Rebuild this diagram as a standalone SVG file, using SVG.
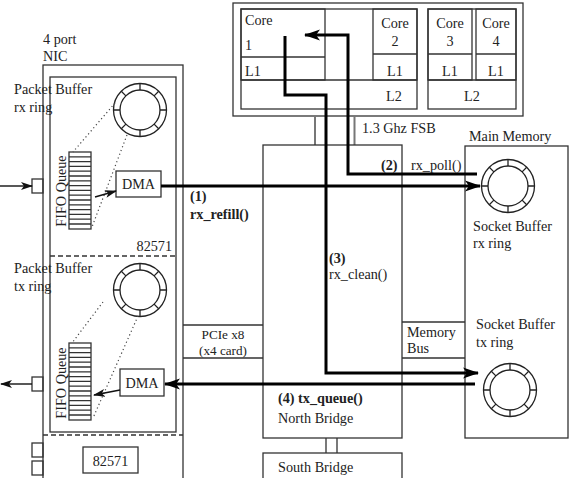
<svg xmlns="http://www.w3.org/2000/svg" width="569" height="478" viewBox="0 0 569 478">
<style>
  text { font-family: "Liberation Serif", "Times New Roman", serif; font-size: 14.2px; fill: #222; }
  .b { font-weight: bold; }
  .sm { font-size: 13.2px; }
  .box { fill: none; stroke: #333; stroke-width: 1.3; }
  .ln { fill: none; stroke: #333; stroke-width: 1.3; }
  .dash { fill: none; stroke: #333; stroke-width: 1.5; stroke-dasharray: 5 3; }
  .dot { fill: none; stroke: #444; stroke-width: 1.2; stroke-dasharray: 1.2 2.8; }
  .thick { fill: none; stroke: #000; stroke-width: 3; }
  .thin { fill: none; stroke: #111; stroke-width: 1.4; }
  .ring { fill: none; stroke: #222; stroke-width: 1.3; }
</style>
<defs>
  <marker id="ah" markerUnits="userSpaceOnUse" markerWidth="16" markerHeight="12" refX="15" refY="6" orient="auto">
    <path d="M0,0.5 L16,6 L0,11.5 L4,6 z" fill="#000"/>
  </marker>
  <marker id="as" markerUnits="userSpaceOnUse" markerWidth="12" markerHeight="8" refX="11" refY="4" orient="auto">
    <path d="M0,0 L12,4 L0,8 L3,4 z" fill="#111"/>
  </marker>
  <g id="ringshape">
    <circle class="ring" r="26.5"/>
    <circle class="ring" r="20"/>
    <path class="ring" d="M20,0 L26.5,0 M-20,0 L-26.5,0 M0,20 L0,26.5 M0,-20 L0,-26.5 M14.1,14.1 L18.7,18.7 M-14.1,14.1 L-18.7,18.7 M14.1,-14.1 L18.7,-18.7 M-14.1,-14.1 L-18.7,-18.7"/>
  </g>
  <g id="fifo">
    <rect class="box" x="0" y="0" width="22" height="77"/>
    <path class="ln" d="M0,4.8 H22 M0,9.6 H22 M0,14.4 H22 M0,19.2 H22 M0,24 H22 M0,28.8 H22 M0,33.6 H22 M0,38.4 H22 M0,43.2 H22 M0,48 H22 M0,52.8 H22 M0,57.6 H22 M0,62.4 H22 M0,67.2 H22 M0,72 H22"/>
  </g>
</defs>

<g id="cpu">
  <rect class="box" x="233" y="3" width="290" height="113"/>
  <rect class="box" x="241" y="9" width="176" height="100"/>
  <path class="ln" d="M241,80 H417"/>
  <rect class="box" x="241" y="9" width="84" height="71"/>
  <path class="ln" d="M241,57 H325"/>
  <text x="245" y="25">Core</text>
  <text x="245" y="50">1</text>
  <text x="245" y="76">L1</text>
  <rect class="box" x="373" y="9" width="44" height="71"/>
  <path class="ln" d="M373,54 H417"/>
  <text x="395" y="28" text-anchor="middle">Core</text>
  <text x="395" y="46" text-anchor="middle">2</text>
  <text x="395" y="76" text-anchor="middle">L1</text>
  <text x="394" y="101" text-anchor="middle">L2</text>
  <rect class="box" x="428" y="9" width="88" height="100"/>
  <path class="ln" d="M428,80 H516"/>
  <rect class="box" x="428" y="9" width="44" height="71"/>
  <path class="ln" d="M428,54 H472"/>
  <text x="450" y="28" text-anchor="middle">Core</text>
  <text x="450" y="46" text-anchor="middle">3</text>
  <text x="450" y="76" text-anchor="middle">L1</text>
  <rect class="box" x="476" y="9" width="40" height="71"/>
  <path class="ln" d="M476,54 H516"/>
  <text x="496" y="28" text-anchor="middle">Core</text>
  <text x="496" y="46" text-anchor="middle">4</text>
  <text x="496" y="76" text-anchor="middle">L1</text>
  <text x="472" y="101" text-anchor="middle">L2</text>
</g>

<g id="fsb">
  <path d="M315,116 V145 M354.5,116 V145" fill="none" stroke="#777" stroke-width="2"/>
  <text x="362" y="133">1.3 Ghz FSB</text>
</g>

<g id="nic">
  <text x="43" y="44">4 port</text>
  <text x="43" y="61">NIC</text>
  <rect class="box" x="43" y="65" width="140" height="420"/>
  <rect class="box" x="50" y="77" width="126" height="355"/>
  <path class="dash" d="M50,256 H176"/>
  <path class="dash" d="M43,435 H183"/>
  <text x="172" y="251" text-anchor="end">82571</text>
  <rect class="box" x="32" y="179" width="11" height="14"/>
  <rect class="box" x="32" y="377" width="11" height="14"/>
  <rect class="box" x="32" y="443" width="11" height="14"/>
  <rect class="box" x="32" y="461" width="11" height="14"/>
  <rect class="box" x="83" y="447" width="55" height="26"/>
  <text x="110.5" y="466" text-anchor="middle">82571</text>
</g>

<g id="nic-rx">
  <text x="14" y="94">Packet Buffer</text>
  <text x="14" y="112">rx ring</text>
  <use href="#ringshape" x="140" y="110"/>
  <use href="#fifo" x="69" y="152"/>
  <text transform="translate(66,191) rotate(-90)" text-anchor="middle">FIFO Queue</text>
  <rect class="box" x="116" y="171" width="45" height="26"/>
  <text x="138.5" y="189" text-anchor="middle">DMA</text>
  <path class="dot" d="M115,103 L73,152 M127,135 L92,227"/>
</g>

<g id="nic-tx">
  <text x="14" y="273">Packet Buffer</text>
  <text x="14" y="291">tx ring</text>
  <use href="#ringshape" x="140" y="290"/>
  <use href="#fifo" x="69" y="343"/>
  <text transform="translate(66,383) rotate(-90)" text-anchor="middle">FIFO Queue</text>
  <rect class="box" x="120" y="369" width="44" height="27"/>
  <text x="142" y="388" text-anchor="middle">DMA</text>
  <path class="dot" d="M103,302 L72,343 M138,316 L93,418"/>
</g>

<g id="pcie">
  <path class="ln" d="M183,325 H263 M183,358 H263"/>
  <text class="sm" x="223" y="339" text-anchor="middle">PCIe x8</text>
  <text class="sm" x="223" y="355" text-anchor="middle">(x4 card)</text>
</g>

<g id="northbridge">
  <rect class="box" x="263" y="145" width="139" height="293"/>
  <text x="278" y="423">North Bridge</text>
</g>

<g id="membus">
  <path class="ln" d="M402,322 H465 M402,358 H465"/>
  <text x="407" y="337">Memory</text>
  <text x="407" y="353">Bus</text>
</g>

<g id="southbridge">
  <path class="ln" d="M326,438 V453 M337,438 V453"/>
  <rect class="box" x="263" y="453" width="139" height="40"/>
  <text x="278" y="472">South Bridge</text>
</g>

<g id="mainmemory">
  <text x="469" y="141">Main Memory</text>
  <rect class="box" x="465" y="146" width="103" height="292"/>
  <use href="#ringshape" x="508" y="186"/>
  <text x="473" y="231">Socket Buffer</text>
  <text x="473" y="248">rx ring</text>
  <text x="476" y="329">Socket Buffer</text>
  <text x="476" y="347">tx ring</text>
  <use href="#ringshape" x="510" y="390"/>
</g>

<g id="connectors">
  <path class="thin" d="M0,186 H32" marker-end="url(#as)"/>
  <path class="thin" d="M32,384 H1" marker-end="url(#as)"/>
  <path class="thin" d="M95,197 L116,191" marker-end="url(#as)"/>
  <path class="thin" d="M120,390 L94,395" marker-end="url(#as)"/>
  <path class="thick" d="M161,186 H480" marker-end="url(#ah)"/>
  <path class="thick" d="M477,174 H348 V35 H305" marker-end="url(#ah)"/>
  <path class="thick" d="M285,36 V95 H326 V373 H478" marker-end="url(#ah)"/>
  <path class="thick" d="M475,384 H165" marker-end="url(#ah)"/>
</g>

<g id="labels">
  <text class="b" x="190" y="201">(1)</text>
  <text class="b" x="190" y="219">rx_refill()</text>
  <text class="b" x="381" y="170">(2)</text>
  <text x="411" y="170">rx_poll()</text>
  <text class="b" x="329" y="263">(3)</text>
  <text x="329" y="279">rx_clean()</text>
  <text class="b" x="278" y="403">(4) tx_queue()</text>
</g>
</svg>
